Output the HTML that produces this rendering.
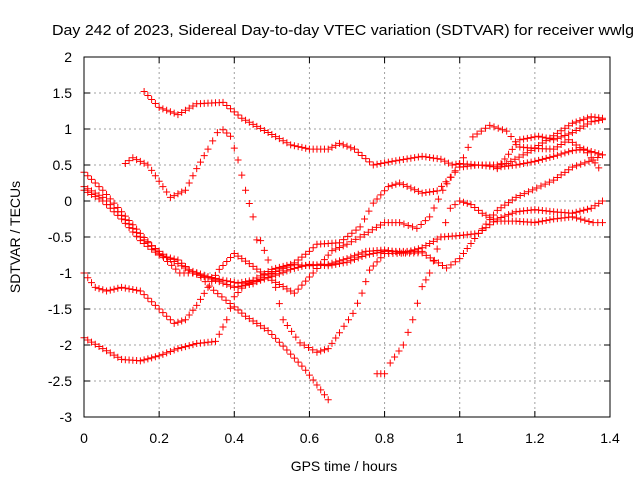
<!DOCTYPE html>
<html><head><meta charset="utf-8"><style>
html,body{margin:0;padding:0;background:#fff;}
svg{display:block;font-family:"Liberation Sans",sans-serif;}
</style></head><body>
<svg id="chart" width="640" height="480" viewBox="0 0 640 480" xmlns="http://www.w3.org/2000/svg">
<rect width="640" height="480" fill="#fff"/>
<text x="343" y="35" text-anchor="middle" font-size="15" textLength="582" lengthAdjust="spacingAndGlyphs" fill="#000">Day 242 of 2023, Sidereal Day-to-day VTEC variation (SDTVAR) for receiver wwlg</text>
<g id="grid"></g>
<g id="ticks"></g>
<g id="marks"></g>
<rect x="84" y="57" width="526" height="360" fill="none" stroke="#000" stroke-width="1"/>
<text x="344" y="471" text-anchor="middle" font-size="14">GPS time / hours</text>
<text transform="translate(20,237) rotate(-90)" text-anchor="middle" font-size="14">SDTVAR / TECUs</text>
</svg>
<script>
const xTicks = [0, 0.2, 0.4, 0.6, 0.8, 1, 1.2, 1.4];
const xTickLabels = ["0", "0.2", "0.4", "0.6", "0.8", "1", "1.2", "1.4"];
const yTicks = [2, 1.5, 1, 0.5, 0, -0.5, -1, -1.5, -2, -2.5, -3];
const yTickLabels = ["2", "1.5", "1", "0.5", "0", "-0.5", "-1", "-1.5", "-2", "-2.5", "-3"];

const trackAx = [0.16,0.2,0.25,0.3,0.37,0.42,0.48,0.55,0.6,0.65,0.68,0.72,0.77,0.82,0.9,0.95,0.98,1.0,1.05,1.1,1.15,1.2,1.25,1.3,1.33,1.38];
const trackAy = [1.52,1.3,1.2,1.35,1.37,1.15,0.98,0.78,0.72,0.72,0.8,0.72,0.5,0.55,0.62,0.58,0.5,0.52,0.5,0.47,0.5,0.55,0.62,0.7,0.72,0.64];
const trackBx = [0.11,0.13,0.17,0.21,0.23,0.27,0.3,0.33,0.355,0.37,0.39,0.41,0.43,0.45,0.46,0.47,0.49,0.51,0.53,0.575,0.62,0.65,0.68,0.716,0.74,0.76,0.8,0.9,0.965,1.0,1.05,1.1,1.15,1.2,1.25,1.3,1.35,1.38];
const trackBy = [0.52,0.6,0.5,0.2,0.05,0.15,0.45,0.72,0.95,0.99,0.9,0.57,0.15,-0.22,-0.54,-0.55,-0.82,-1.2,-1.65,-1.97,-2.1,-2.05,-1.83,-1.56,-1.28,-0.96,-0.73,-0.72,-0.93,-0.8,-0.45,-0.25,-0.15,-0.12,-0.15,-0.17,-0.1,0.0];
const trackCx = [0,0.05,0.1,0.15,0.19,0.255,0.3,0.345,0.4,0.43,0.49,0.54,0.59,0.65];
const trackCy = [0.4,0.15,-0.15,-0.45,-0.68,-1.0,-1.0,-1.24,-1.47,-1.6,-1.8,-2.07,-2.35,-2.76];
const trackDx = [0,0.05,0.1,0.15,0.22,0.28,0.33,0.37,0.41,0.45,0.5,0.55,0.6,0.65,0.7,0.75,0.8,0.85,0.9,0.95,1.0,1.05,1.1,1.15,1.205,1.25,1.3,1.355,1.38];
const trackDy = [0.2,0.05,-0.2,-0.5,-0.78,-0.96,-1.05,-1.1,-1.14,-1.1,-0.95,-0.88,-0.9,-0.88,-0.8,-0.7,-0.68,-0.72,-0.65,-0.5,-0.48,-0.45,-0.13,0.05,0.18,0.29,0.47,0.57,0.64];
const trackEx = [0,0.05,0.1,0.15,0.2,0.25,0.29,0.35,0.4,0.45,0.5,0.55,0.6,0.62,0.68,0.735,0.77,0.81,0.84,0.9,0.94,0.975,1.0,1.05,1.1,1.125,1.18,1.26,1.3,1.35,1.38];
const trackEy = [0.15,0.0,-0.25,-0.55,-0.75,-0.82,-1.0,-1.1,-1.2,-1.15,-1.0,-0.9,-0.7,-0.6,-0.58,-0.36,-0.03,0.2,0.25,0.11,0.14,0.33,0.47,0.5,0.5,0.52,0.67,0.94,1.08,1.17,1.15];
const trackFx = [0,0.03,0.06,0.1,0.15,0.2,0.24,0.27,0.3,0.33,0.36,0.4,0.44,0.5,0.56,0.61,0.66,0.7,0.735,0.8,0.84,0.886,0.92,0.955,1.01,1.035,1.08,1.125,1.16,1.2,1.25,1.29,1.34,1.37];
const trackFy = [-1.0,-1.2,-1.25,-1.2,-1.25,-1.5,-1.7,-1.65,-1.45,-1.2,-0.95,-0.73,-0.87,-1.1,-1.28,-1.0,-0.69,-0.6,-0.5,-0.3,-0.3,-0.38,-0.22,0.15,0.6,0.89,1.05,0.97,0.75,0.73,0.72,0.85,0.67,0.46];
const trackGx = [0,0.05,0.1,0.15,0.2,0.25,0.3,0.35,0.38,0.4,0.43,0.47,0.5,0.55,0.6,0.65,0.7,0.75,0.8,0.85,0.9];
const trackGy = [-1.9,-2.05,-2.2,-2.22,-2.15,-2.05,-1.98,-1.95,-1.65,-1.33,-1.15,-1.1,-1.05,-0.95,-0.88,-0.9,-0.85,-0.75,-0.7,-0.7,-0.7];
const trackHx = [0.78,0.8,0.815,0.85,0.875,0.9,0.92,0.95,0.975,1.0,1.03,1.06,1.1,1.15,1.2,1.25,1.3,1.355,1.38];
const trackHy = [-2.4,-2.4,-2.25,-2.0,-1.65,-1.19,-1.0,-0.5,-0.1,0.0,-0.05,-0.17,-0.28,-0.28,-0.3,-0.25,-0.22,-0.3,-0.3];
const trackIx = [1.1,1.16,1.21,1.25,1.3,1.35,1.38];
const trackIy = [0.45,0.85,0.9,0.85,0.95,1.1,1.13];

const tracks = [[trackAx,trackAy],[trackBx,trackBy],[trackCx,trackCy],[trackDx,trackDy],[trackEx,trackEy],[trackFx,trackFy],[trackGx,trackGy],[trackHx,trackHy],[trackIx,trackIy]];

const X0=84, X1=610, Y0=417, Y1=57;
function sx(v){return X0+(v-0)/(1.4-0)*(X1-X0);}
function sy(v){return Y0-(v-(-3))/(2-(-3))*(Y0-Y1);}
const NS="http://www.w3.org/2000/svg";
const grid=document.getElementById('grid'), ticks=document.getElementById('ticks'), marks=document.getElementById('marks');
function mk(tag,attrs,parent){const e=document.createElementNS(NS,tag);for(const k in attrs)e.setAttribute(k,attrs[k]);parent.appendChild(e);return e;}

xTicks.forEach((t,i)=>{
  const x=sx(t);
  if(i>0&&i<xTicks.length-1){
    const g=mk('line',{x1:x,y1:Y1,x2:x,y2:Y0,stroke:'#a0a0a0','stroke-dasharray':'2,3'},grid);
    
    
  }
  const a=mk('line',{x1:x,y1:Y0,x2:x,y2:Y0-6,stroke:'#000'},ticks);
  
  
  const b=mk('line',{x1:x,y1:Y1,x2:x,y2:Y1+6,stroke:'#000'},ticks);
  
  
  const l=mk('text',{x:x,y:Y0+26,'text-anchor':'middle','font-size':'14'},ticks);
  l.textContent=xTickLabels[i];
  
  
});
yTicks.forEach((t,i)=>{
  const y=sy(t);
  if(i>0&&i<yTicks.length-1){
    const g=mk('line',{x1:X0,y1:y,x2:X1,y2:y,stroke:'#a0a0a0','stroke-dasharray':'2,3'},grid);
    
    
  }
  const a=mk('line',{x1:X0,y1:y,x2:X0+6,y2:y,stroke:'#000'},ticks);
  
  
  const b=mk('line',{x1:X1,y1:y,x2:X1-6,y2:y,stroke:'#000'},ticks);
  
  
  const l=mk('text',{x:X0-12,y:y+5,'text-anchor':'end','font-size':'14'},ticks);
  l.textContent=yTickLabels[i];
  
  
});

tracks.forEach((tr,ti)=>{
  const xs=tr[0], ys=tr[1];
  const g=mk('g',{stroke:'#ff0000','stroke-width':'1',fill:'none'},marks);
  
  
  let d='';
  function plus(px,py){d+='M'+(px-3.5)+' '+py+'h7M'+px+' '+(py-3.5)+'v7';}
  for(let i=0;i<xs.length;i++){
    const px=sx(xs[i]), py=sy(ys[i]);
    plus(px,py);
    if(i<xs.length-1){
      const qx=sx(xs[i+1]), qy=sy(ys[i+1]);
      const n=Math.max(1,Math.round(Math.abs(qx-px)/4));
      for(let k=1;k<n;k++){plus(px+(qx-px)*k/n, py+(qy-py)*k/n);}
    }
  }
  const p=mk('path',{d:d},g);
  
  
});
</script>
</body></html>
